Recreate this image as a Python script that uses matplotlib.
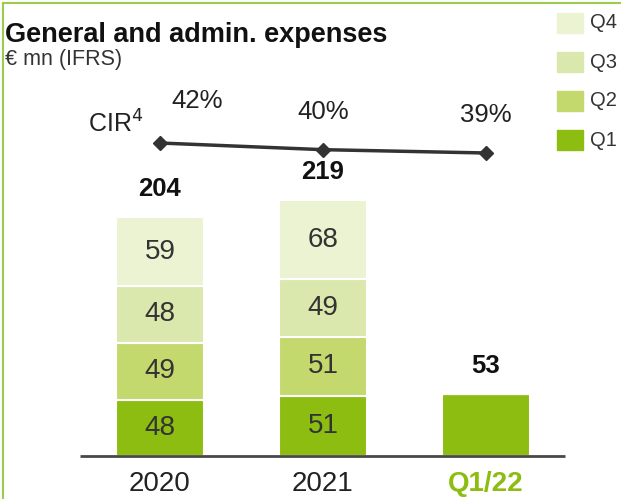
import matplotlib.pyplot as plt
from matplotlib.patches import Rectangle
from matplotlib.lines import Line2D
import numpy as np

plt.rcParams['font.family'] = ['Liberation Sans', 'DejaVu Sans']

# data
categories = ['2020', '2021', 'Q1/22']
q1 = [48, 51, 53]
q2 = [49, 51, 0]
q3 = [48, 49, 0]
q4 = [59, 68, 0]
totals = [204, 219, 53]
cir = [42, 40, 39]
cir_labels = ['42%', '40%', '39%']
quarters = ['Q4', 'Q3', 'Q2', 'Q1']

colors = {'Q1': '#8cbd10', 'Q2': '#c3d96e', 'Q3': '#dbe8ad', 'Q4': '#ebf3d3'}
text_dark = '#333333'

W, H = 621, 499
fig = plt.figure(figsize=(W / 100, H / 100), dpi=100)

def px(x0, y0, x1, y1):
    # figure fraction box from pixel coords (top-left origin)
    return [x0 / W, 1 - y1 / H, (x1 - x0) / W, (y1 - y0) / H]

ax = fig.add_axes(px(80, 100, 565, 456))
ax.set_xlim(-0.49, 2.485)
ax.set_ylim(0, 356 / 1.17)
ax.axis('off')

x = np.arange(len(categories))
width = 0.54
series = [('Q1', q1), ('Q2', q2), ('Q3', q3), ('Q4', q4)]
bottom = np.zeros(len(categories))
for name, vals in series:
    vals = np.array(vals, dtype=float)
    ax.bar(x, vals, width, bottom=bottom, color=colors[name],
           edgecolor='white', linewidth=1.5, zorder=2)
    for i, v in enumerate(vals):
        if v > 0 and categories[i] != 'Q1/22':
            ax.text(x[i], bottom[i] + v / 2, f'{v:.0f}', ha='center', va='center',
                    fontsize=20, color=text_dark, zorder=3)
    bottom += vals

for i, t in enumerate(totals):
    ax.annotate(str(t), (x[i], t), xytext=(0, 16), textcoords='offset pixels',
                ha='center', va='bottom', fontsize=18.5, fontweight='bold', color='#111111')

# baseline
ax.plot([-0.49, 2.485], [0, 0], color='#484848', lw=2, solid_capstyle='butt',
        clip_on=False, zorder=4)

# category labels
for i, c in enumerate(categories):
    if c == 'Q1/22':
        ax.annotate(c, (x[i], 0), xytext=(0, -15), textcoords='offset pixels',
                    ha='center', va='top', fontsize=20, fontweight='bold', color='#8cbd10')
    else:
        ax.annotate(c, (x[i], 0), xytext=(0, -15), textcoords='offset pixels',
                    ha='center', va='top', fontsize=20, color='#222222')

# CIR line on twin axis
ax2 = ax.twinx()
ax2.set_ylim(42 - 313 / 3.33, 42 + 43 / 3.33)
ax2.axis('off')
ax2.plot(x, cir, color='#333333', lw=2.5, marker='D', markersize=7, zorder=5)
offsets = [(37, 30), (0, 26), (0, 26)]
for i, lab in enumerate(cir_labels):
    ax2.annotate(lab, (x[i], cir[i]), xytext=offsets[i], textcoords='offset pixels',
                 ha='center', va='bottom', fontsize=18.5, color='#222222')
ax2.annotate('CIR$^4$', (x[0], cir[0]), xytext=(-44, 5), textcoords='offset pixels',
             ha='center', va='bottom', fontsize=18, color='#222222')

# title
fig.text(5 / W, 1 - 42 / H, 'General and admin. expenses', fontsize=19.5,
         fontweight='bold', color='#111111', ha='left', va='baseline')
fig.text(5 / W, 1 - 65 / H, '€ mn (IFRS)', fontsize=15.5, color='#333333',
         ha='left', va='baseline')

# legend
for k, q in enumerate(quarters):
    y0 = 13 + k * 39
    fig.patches.append(Rectangle((557 / W, 1 - (y0 + 20) / H), 26 / W, 20 / H,
                                 transform=fig.transFigure, color=colors[q]))
    fig.text(590 / W, 1 - (y0 + 10) / H, q, fontsize=14.5, color='#333333',
             ha='left', va='center')

# frame lines
fig.lines.append(Line2D([2.5 / W, 2.5 / W], [0, 1 - 2.5 / H], transform=fig.transFigure,
                        color='#9ccc4c', lw=1.5))
fig.lines.append(Line2D([2.5 / W, 1], [1 - 2.5 / H, 1 - 2.5 / H], transform=fig.transFigure,
                        color='#9ccc4c', lw=1.5))

fig.savefig('out.png', dpi=100)
